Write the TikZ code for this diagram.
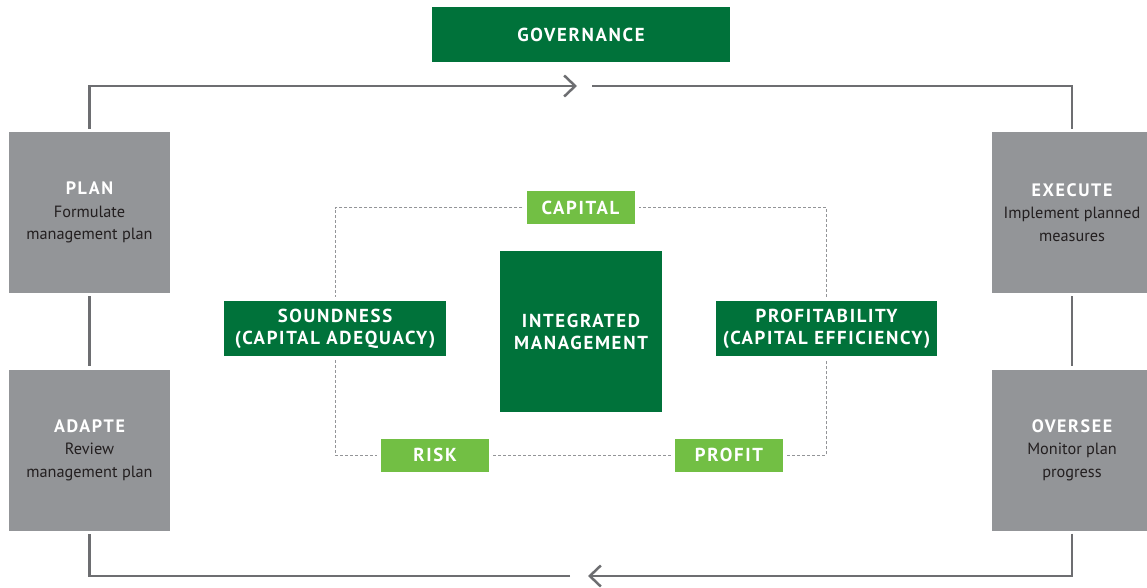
\documentclass[tikz,border=0pt]{standalone}
\usepackage{fontspec}
\setmainfont{PT Sans}
\newfontfamily\capsfont[LetterSpace=9]{PT Sans}
\usetikzlibrary{arrows.meta}
\definecolor{darkgreen}{HTML}{00723A}
\definecolor{lightgreen}{HTML}{72BF44}
\definecolor{boxgray}{HTML}{939598}
\definecolor{linegray}{HTML}{6D6E71}
\definecolor{dashgray}{HTML}{939598}
\definecolor{textgray}{HTML}{231F20}
\newcommand\stagehead[1]{\textcolor{white}{\capsfont\bfseries\fontsize{18}{22.5}\selectfont #1}}
\begin{document}
\begin{tikzpicture}
  [x=1pt,y=-1pt,every node/.style={rectangle,inner sep=0pt,align=center}]
  \tikzstyle{stage} = [fill=boxgray,text=textgray,minimum width=161pt,minimum height=161pt,font=\fontsize{16.3}{22.5}\selectfont]
  \tikzstyle{dark} = [fill=darkgreen,text=white,font=\capsfont\bfseries\fontsize{18.8}{22}\selectfont]
  \tikzstyle{light} = [fill=lightgreen,text=white,minimum width=108pt,minimum height=33pt,font=\capsfont\bfseries\fontsize{18.8}{22}\selectfont]
  \tikzstyle{cycle} = [draw=linegray,line width=2.5pt]
  \tikzstyle{link} = [draw=dashgray,line width=1pt,dash pattern=on 3pt off 2pt,shorten <=4pt,shorten >=4pt]
  \useasboundingbox (0,0) rectangle (1147,588);
  \node[dark,minimum width=298pt,minimum height=55pt] (governance) at (581,34.5) {GOVERNANCE};
  \node[stage] (plan)    at (89.5,212.5) {\stagehead{PLAN}\\Formulate\\management plan};
  \node[stage] (adapte)  at (89.5,450)   {\stagehead{ADAPTE}\\Review\\management plan};
  \node[stage] (execute) at (1072,212.5) {\stagehead{EXECUTE}\\Implement planned\\measures};
  \node[stage] (oversee) at (1072,450)   {\stagehead{OVERSEE}\\Monitor plan\\progress};
  \node[light] (capital) at (580.5,207.5) {CAPITAL};
  \node[light] (risk)    at (435,455)     {RISK};
  \node[light] (profit)  at (729,455)     {PROFIT};
  \node[dark,minimum width=162pt,minimum height=161pt] (integrated) at (581,331.5) {INTEGRATED\\MANAGEMENT};
  \node[dark,minimum width=222pt,minimum height=55pt] (soundness) at (335,328.5) {SOUNDNESS\\(CAPITAL ADEQUACY)};
  \node[dark,minimum width=221pt,minimum height=55pt] (profitability) at (826.5,328.5) {PROFITABILITY\\(CAPITAL EFFICIENCY)};
  \coordinate (topin)  at (577,86);
  \coordinate (topout) at (592,86);
  \coordinate (botin)  at (588,576);
  \coordinate (botout) at (570,576);
  \foreach \source/\dest in {plan/adapte,execute/oversee}
   \draw[cycle,shorten <=3pt,shorten >=3pt] (\source) -- (\dest);
  \draw[cycle,-{Straight Barb[length=11pt,width=21pt]},shorten <=3pt] (plan.north) |- (topin);
  \draw[cycle,shorten >=3pt] (topout) -| (execute.north);
  \draw[cycle,-{Straight Barb[length=11pt,width=21pt]},shorten <=3pt] (oversee.south) |- (botin);
  \draw[cycle,shorten >=3pt] (botout) -| (adapte.south);
  \foreach \source/\dest in {capital.west/soundness.north,profit.east/profitability.south}
   \draw[link] (\source) -| (\dest);
  \foreach \source/\dest in {soundness.south/risk.west,profitability.north/capital.east}
   \draw[link] (\source) |- (\dest);
  \draw[link] (risk) -- (profit);
\end{tikzpicture}
\end{document}
